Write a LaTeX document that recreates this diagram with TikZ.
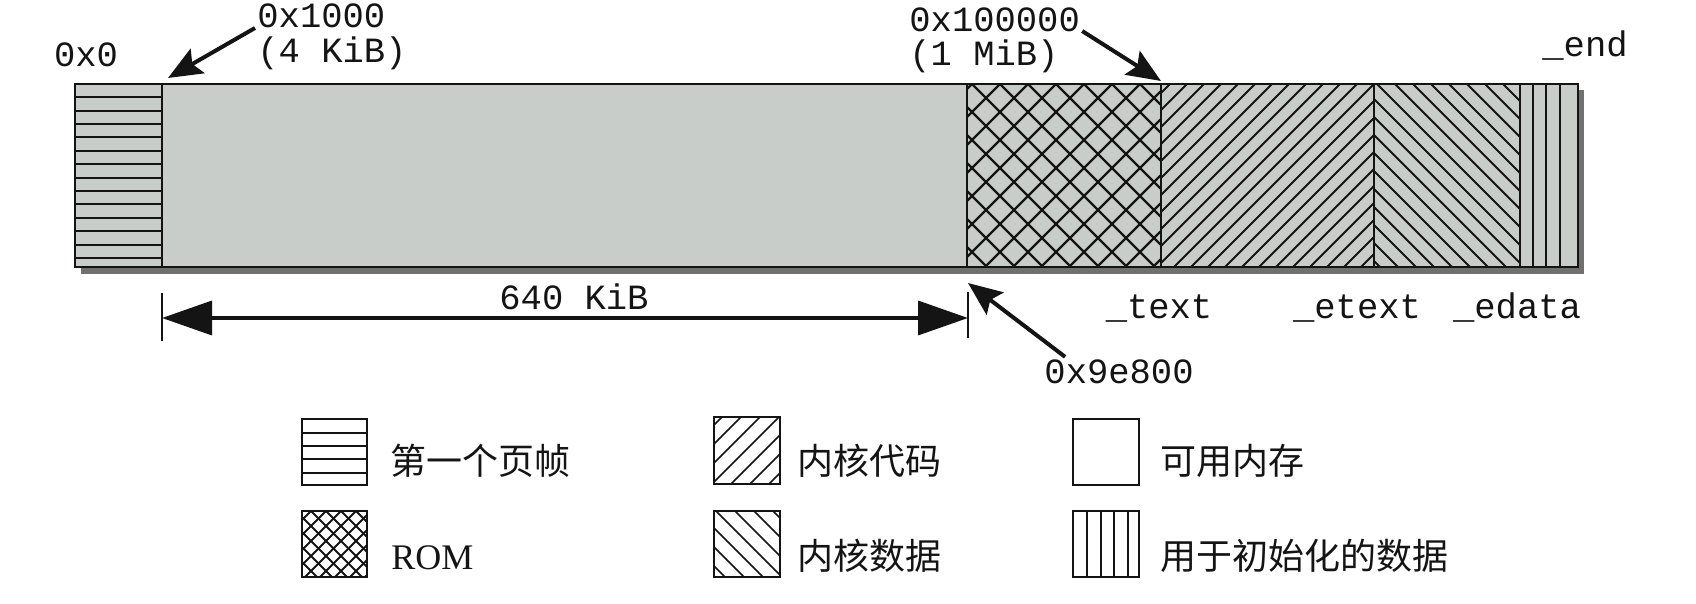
\documentclass[tikz,border=0pt]{standalone}
\usepackage{fontspec}
\setmainfont{Liberation Serif}
\setmonofont{Liberation Mono}
\newfontfamily\cjk{Noto Sans CJK SC}
\usetikzlibrary{arrows.meta}
\definecolor{bargray}{RGB}{201,205,202}
\definecolor{shadowgray}{RGB}{112,112,112}
\definecolor{ink}{RGB}{20,20,20}
\begin{document}
\begin{tikzpicture}[x=0.5pt,y=-0.5pt]
    \tikzstyle{frame}=[draw=ink,line width=0.8pt]
    \tikzstyle{hatch}=[draw=ink,line width=1pt]
    \tikzstyle{mono}=[font=\ttfamily\fontsize{17.75}{20}\selectfont,text=ink,inner sep=1pt]
    \tikzstyle{legend}=[font=\cjk\fontsize{18}{20}\selectfont,text=ink,inner sep=0pt,anchor=base west]
    \tikzstyle{pointer}=[ink,line width=2pt,-{Stealth[length=17pt,width=14pt,inset=3pt]}]
    \tikzstyle{span}=[ink,line width=1.8pt,{Triangle[length=25pt,width=17pt]}-{Triangle[length=25pt,width=17pt]}]
    \useasboundingbox (0,0) rectangle (1696,604);
    % memory bar with shadow
    \fill[shadowgray] (81,90) rectangle (1584,274);
    \fill[bargray] (75,84) rectangle (1578,267);
    % first page frame
    \foreach \y in {97.3,110.7,...,260} \draw[hatch] (75,\y) -- (162,\y);
    % ROM
    \begin{scope}
        \clip (967,84) rectangle (1161,267);
        \foreach \x in {776,804,...,1364} {
            \draw[hatch,line width=1.2pt] (\x,84) -- ++(183,183);
            \draw[hatch,line width=1.2pt] (\x,84) -- ++(-183,183);
        }
    \end{scope}
    % kernel code
    \begin{scope}
        \clip (1161,84) rectangle (1374,267);
        \foreach \x in {1170,1187,...,1560} \draw[hatch] (\x,84) -- ++(-183,183);
    \end{scope}
    % kernel data
    \begin{scope}
        \clip (1374,84) rectangle (1520,267);
        \foreach \x in {1179,1197,...,1520} \draw[hatch] (\x,84) -- ++(183,183);
    \end{scope}
    % init data
    \foreach \x in {1533,1546,1560} \draw[hatch] (\x,84) -- (\x,267);
    \foreach \x in {162,967,1161,1374,1520} \draw[frame,line width=1pt] (\x,84) -- (\x,267);
    \draw[frame,line width=1pt] (75,84) rectangle (1578,267);

    % addresses
    \node[mono,anchor=base] (a0) at (86,67) {0x0};
    \node[mono,anchor=base west] (a1000) at (255,28) {0x1000};
    \node[mono,anchor=base west] (b1000) at (255,63) {(4 KiB)};
    \node[mono,anchor=base west] (a100000) at (907,32) {0x100000};
    \node[mono,anchor=base west] (b100000) at (907,66) {(1 MiB)};
    \node[mono,anchor=base] (eend) at (1585,57) {\_end};
    \node[mono,anchor=base] (etext) at (1159,318) {\_text};
    \node[mono,anchor=base] (eetext) at (1357,318) {\_etext};
    \node[mono,anchor=base] (eedata) at (1517,318) {\_edata};
    \node[mono,anchor=base] (a9e800) at (1119,383) {0x9e800};
    \coordinate (p1000) at (168,78);
    \coordinate (p100000) at (1161,81);
    \coordinate (p9e800) at (968,283);
    \draw[pointer] (a1000.190) -- (p1000);
    \draw[pointer] (a100000.353) -- (p100000);
    \draw[pointer] (a9e800.165) -- (p9e800);

    % 640 KiB span
    \draw[ink,line width=1.2pt] (162,293) -- (162,341);
    \draw[ink,line width=1.2pt] (968,292) -- (968,338);
    \coordinate (s0) at (162,318);
    \coordinate (s1) at (968,318);
    \draw[span] (s0) -- (s1);
    \node[mono,anchor=base] (s640) at (574,309) {640 KiB};

    % legend
    \foreach \y in {433,446,459,473} \draw[hatch,line width=0.8pt] (302,\y) -- (367,\y);
    \draw[frame] (302,419) rectangle (367,485);
    \begin{scope}
        \clip (302,511) rectangle (367,577);
        \foreach \x in {236,251,...,440} {
            \draw[hatch] (\x,511) -- ++(66,66);
            \draw[hatch] (\x,511) -- ++(-66,66);
        }
    \end{scope}
    \draw[frame] (302,511) rectangle (367,577);
    \begin{scope}
        \clip (714,417) rectangle (780,484);
        \foreach \x in {722,741,...,850} \draw[hatch,line width=0.8pt] (\x,417) -- ++(-67,67);
    \end{scope}
    \draw[frame] (714,417) rectangle (780,484);
    \begin{scope}
        \clip (714,511) rectangle (780,577);
        \foreach \x in {640,659,...,780} \draw[hatch,line width=0.8pt] (\x,511) -- ++(66,66);
    \end{scope}
    \draw[frame] (714,511) rectangle (780,577);
    \draw[frame] (1073,419) rectangle (1139,485);
    \foreach \x in {1087,1101,1114,1128} \draw[hatch,line width=0.8pt] (\x,511) -- (\x,577);
    \draw[frame] (1073,511) rectangle (1139,577);
    \node[legend] (lpage) at (390,474) {第一个页帧};
    \node[legend,font=\rmfamily\fontsize{18}{20}\selectfont] (lrom) at (391,569) {ROM};
    \node[legend] (lcode) at (797,474) {内核代码};
    \node[legend] (ldata) at (797,569) {内核数据};
    \node[legend] (lfree) at (1160,474) {可用内存};
    \node[legend] (linit) at (1160,569) {用于初始化的数据};
\end{tikzpicture}
\end{document}
